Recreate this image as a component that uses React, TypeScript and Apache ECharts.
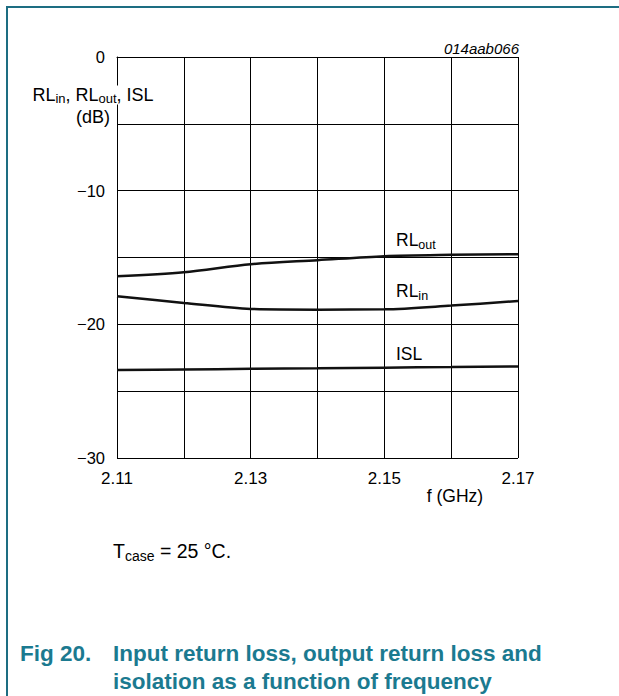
import React, { useEffect, useRef } from "react";
import * as echarts from "echarts";

const freqs = [2.11, 2.12, 2.13, 2.14, 2.15, 2.16, 2.17];
const rlOut = [-16.4, -16.1, -15.5, -15.2, -14.9, -14.8, -14.75];
const rlIn = [-17.9, -18.4, -18.85, -18.9, -18.88, -18.6, -18.25];
const isl = [-23.42, -23.38, -23.33, -23.29, -23.24, -23.2, -23.15];

const FONT = "Liberation Sans, Arial, Helvetica, sans-serif";
const TEAL = "#1b7a90";
const FRAME = "#1d6d82";

const pairs = (ys: number[]) => freqs.map((f, i) => [f, ys[i]]);

export default function App() {
  const ref = useRef<HTMLDivElement>(null);
  useEffect(() => {
    document.body.style.margin = "0";
    if (!ref.current) return;
    const chart = echarts.init(ref.current, undefined, { renderer: "svg" });
    const mkRich = (n: number, s: number, extra = 5) => ({
      n: { fontSize: n, lineHeight: n + extra, fontFamily: FONT, color: "#000" },
      s: { fontSize: s, lineHeight: s + 2, verticalAlign: "bottom", fontFamily: FONT, color: "#000" },
    });
    const seriesStyle = { color: "#111", width: 2.5 };
    const captionStyle = { fontSize: 22.5, fontWeight: "bold", fontFamily: FONT, fill: TEAL, align: "left", verticalAlign: "middle" };
    chart.setOption({
      animation: false,
      backgroundColor: "#fff",
      grid: { left: 117, top: 57, width: 401, height: 401, containLabel: false },
      xAxis: {
        type: "value",
        min: 2.11,
        max: 2.17,
        interval: 0.01,
        axisLine: { show: true, lineStyle: { color: "#000", width: 1 } },
        axisTick: { show: false },
        splitLine: { show: true, lineStyle: { color: "#000", width: 1 } },
        axisLabel: {
          margin: 12,
          fontSize: 17,
          fontFamily: FONT,
          color: "#000",
          formatter: (v: number) => (Math.round(v * 100) % 2 === 1 ? v.toFixed(2) : ""),
        },
      },
      yAxis: {
        type: "value",
        min: -30,
        max: 0,
        interval: 5,
        axisLine: { show: true, lineStyle: { color: "#000", width: 1 } },
        axisTick: { show: false },
        splitLine: { show: true, lineStyle: { color: "#000", width: 1 } },
        axisLabel: {
          margin: 12,
          fontSize: 16.5,
          fontFamily: FONT,
          color: "#000",
          formatter: (v: number) =>
            Math.round(v) % 10 === 0 ? (v < 0 ? "\u2212" + Math.abs(v) : String(v)) : "",
        },
      },
      series: [
        { name: "RLout", type: "line", data: pairs(rlOut), smooth: 0.3, showSymbol: false, lineStyle: seriesStyle, z: 5 },
        { name: "RLin", type: "line", data: pairs(rlIn), smooth: 0.3, showSymbol: false, lineStyle: seriesStyle, z: 5 },
        { name: "ISL", type: "line", data: pairs(isl), smooth: 0.3, showSymbol: false, lineStyle: seriesStyle, z: 5 },
      ],
      graphic: [
        { type: "line", shape: { x1: 6, y1: 7, x2: 619, y2: 7 }, style: { stroke: FRAME, lineWidth: 2 }, z: 50 },
        { type: "line", shape: { x1: 7, y1: 7, x2: 7, y2: 696 }, style: { stroke: FRAME, lineWidth: 2 }, z: 50 },
        {
          type: "text",
          x: 519,
          y: 48,
          z: 50,
          style: { text: "014aab066", fontSize: 15, fontStyle: "italic", fontFamily: FONT, fill: "#000", align: "right", verticalAlign: "middle" },
        },
        {
          type: "text",
          x: 93,
          y: 95,
          z: 100,
          style: {
            text: "{n|RL}{s|in}{n|, RL}{s|out}{n|, ISL}",
            rich: mkRich(18, 13, 1),
            align: "center",
            verticalAlign: "middle",
            backgroundColor: "#fff",
            padding: [0, 2, 0, 2],
          },
        },
        {
          type: "text",
          x: 93,
          y: 117,
          z: 100,
          style: { text: "(dB)", fontSize: 18, lineHeight: 18, fontFamily: FONT, fill: "#000", align: "center", verticalAlign: "middle" },
        },
        {
          type: "text",
          x: 396,
          y: 240,
          z: 50,
          style: { text: "{n|RL}{s|out}", rich: mkRich(17.5, 12.5), align: "left", verticalAlign: "middle" },
        },
        {
          type: "text",
          x: 396,
          y: 291,
          z: 50,
          style: { text: "{n|RL}{s|in}", rich: mkRich(17.5, 12.5), align: "left", verticalAlign: "middle" },
        },
        {
          type: "text",
          x: 396,
          y: 354,
          z: 50,
          style: { text: "ISL", fontSize: 17.5, fontFamily: FONT, fill: "#000", align: "left", verticalAlign: "middle" },
        },
        {
          type: "text",
          x: 455,
          y: 496,
          z: 50,
          style: { text: "f (GHz)", fontSize: 17.5, fontFamily: FONT, fill: "#000", align: "center", verticalAlign: "middle" },
        },
        {
          type: "text",
          x: 113,
          y: 551,
          z: 50,
          style: { text: "{n|T}{s|case}{n| = 25 \u00B0C.}", rich: mkRich(19.5, 14), align: "left", verticalAlign: "middle" },
        },
        { type: "text", x: 20, y: 653, z: 50, style: { ...captionStyle, text: "Fig 20." } },
        { type: "text", x: 113, y: 653, z: 50, style: { ...captionStyle, text: "Input return loss, output return loss and" } },
        { type: "text", x: 113, y: 681, z: 50, style: { ...captionStyle, text: "isolation as a function of frequency" } },
      ],
    });
    return () => chart.dispose();
  }, []);
  return <div ref={ref} style={{ width: 619, height: 696 }} />;
}
